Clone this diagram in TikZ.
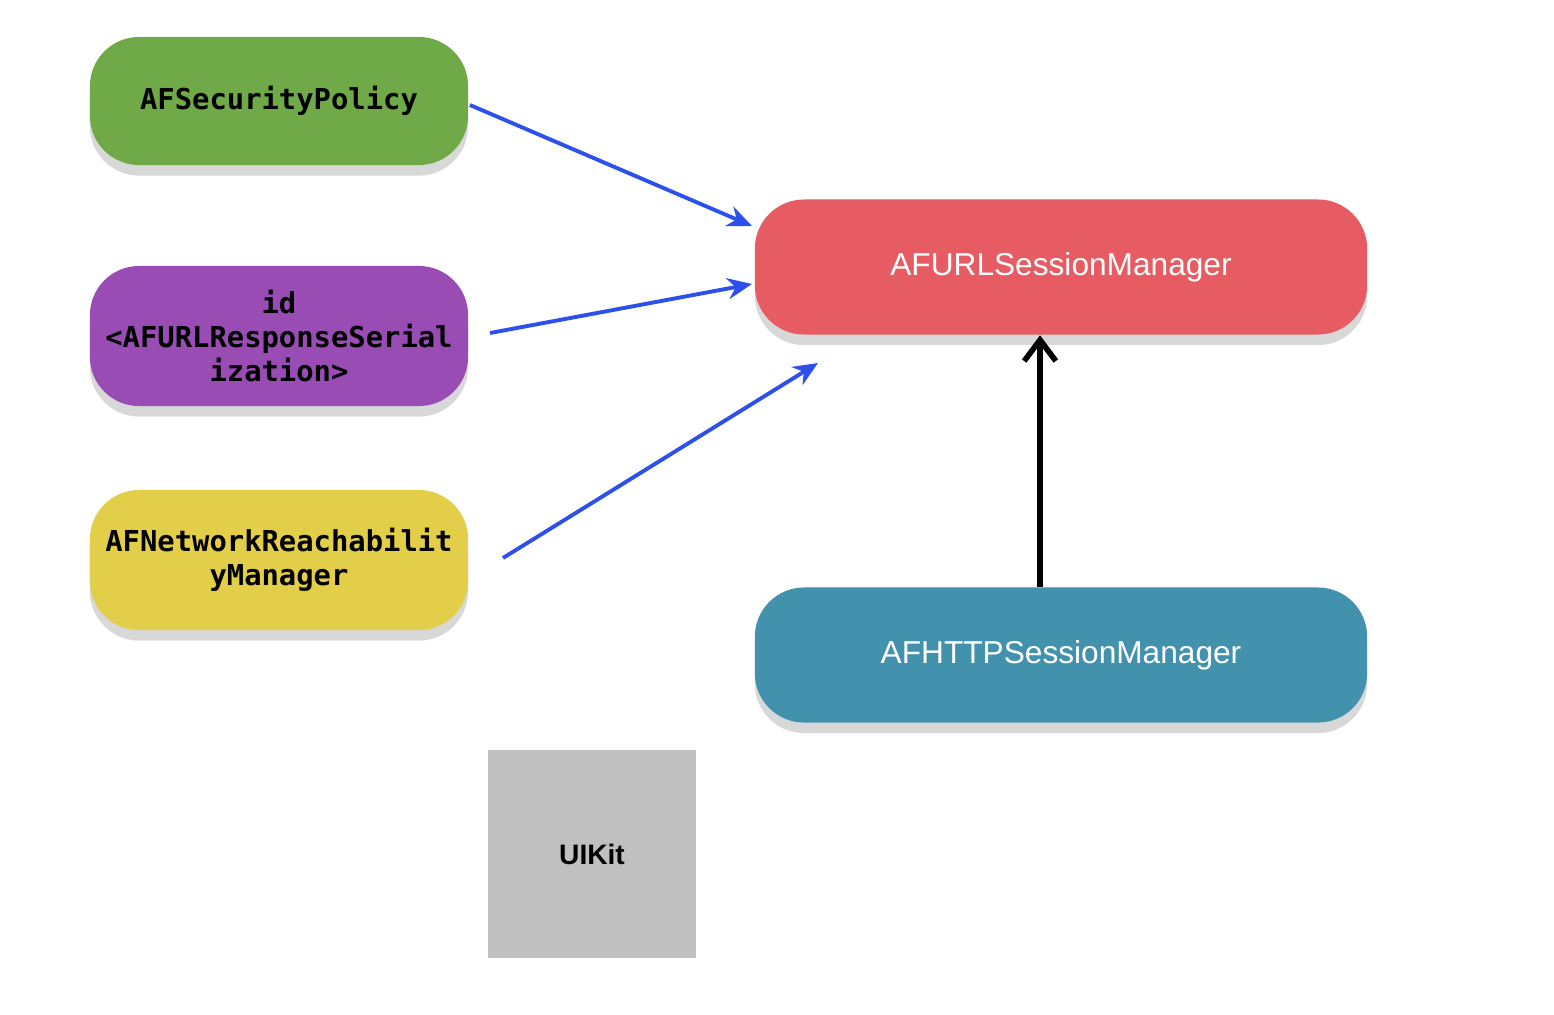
\documentclass[tikz,border=0pt]{standalone}
\usepackage{fontspec}
\setmainfont{Liberation Sans}
\newfontfamily\codefont{DejaVu Sans Mono}
\usetikzlibrary{arrows.meta,shadows}
\definecolor{policygreen}{RGB}{112,170,72}
\definecolor{serialpurple}{RGB}{152,76,180}
\definecolor{reachyellow}{RGB}{226,206,72}
\definecolor{urlred}{RGB}{230,92,98}
\definecolor{httpteal}{RGB}{66,146,174}
\definecolor{kitgray}{RGB}{192,192,192}
\definecolor{arrowblue}{RGB}{45,80,235}
\tikzstyle{klass}=[rounded corners=14pt,inner sep=0pt,align=center,drop shadow={opacity=0.3,shadow xshift=0pt,shadow yshift=-3pt}]
\tikzstyle{code klass}=[klass,font=\codefont\bfseries\fontsize{8.2pt}{9.6pt}\selectfont,text=black]
\tikzstyle{main klass}=[klass,font=\fontsize{9pt}{11pt}\selectfont,text=white]
\tikzstyle{link}=[draw,arrowblue,line width=1.1pt,-{Stealth[length=7pt,width=6pt]}]

\begin{document}
\begin{tikzpicture}[x=0.01cm,y=-0.01cm]
    \useasboundingbox[fill=white] (0,0) rectangle (1554,1014);
    % left column of helpers
    \node[code klass,fill=policygreen,minimum width=378\pgflinewidth*0+1.07cm*0+3.78cm,minimum height=1.28cm] (policy) at (279,101) {AFSecurityPolicy};
    \node[code klass,fill=serialpurple,minimum width=3.78cm,minimum height=1.40cm] (serial) at (279,336) {id\\<AFURLResponseSerial\\ization>};
    \node[code klass,fill=reachyellow,minimum width=3.78cm,minimum height=1.40cm] (reach) at (279,560) {AFNetworkReachabilit\\yManager};
    % managers
    \node[main klass,fill=urlred,minimum width=6.12cm,minimum height=1.35cm] (url) at (1061,267) {AFURLSessionManager};
    \node[main klass,fill=httpteal,minimum width=6.12cm,minimum height=1.35cm] (http) at (1061,655) {AFHTTPSessionManager};
    \node[fill=kitgray,minimum width=2.07cm,minimum height=2.07cm,inner sep=0pt,font=\bfseries\fontsize{8pt}{10pt}\selectfont] (kit) at (592,854) {UIKit};
    % arrow ends
    \coordinate (policyOut) at (470,105);
    \coordinate (serialOut) at (490,333);
    \coordinate (reachOut) at (503,558);
    \coordinate (urlInA) at (752,226);
    \coordinate (urlInB) at (752,284);
    \coordinate (urlInC) at (818,363);
    \path[link] (policyOut) -- (urlInA);
    \path[link] (serialOut) -- (urlInB);
    \path[link] (reachOut) -- (urlInC);
    \draw[black,line width=1.6pt,-{Straight Barb[length=6pt,width=9pt]}] (http.north -| 1040,0) -- (url.south -| 1040,0);
\end{tikzpicture}
\end{document}
